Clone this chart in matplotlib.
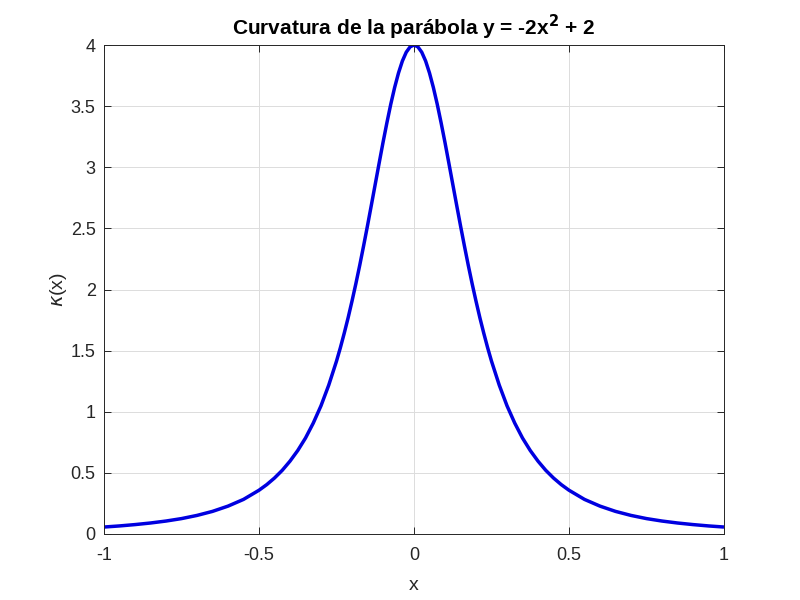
import matplotlib
matplotlib.use("Agg")
import matplotlib.pyplot as plt

plt.rcParams['font.family'] = ['Liberation Sans', 'DejaVu Sans']

# values
x_vals = [-1.0, -0.95, -0.9, -0.85, -0.8, -0.75, -0.7, -0.65, -0.6, -0.55, -0.5,
          -0.475, -0.45, -0.425, -0.4, -0.375, -0.35, -0.325, -0.3, -0.275, -0.25,
          -0.2375, -0.225, -0.2125, -0.2, -0.1875, -0.175, -0.1625, -0.15, -0.1375,
          -0.125, -0.1125, -0.1, -0.0875, -0.075, -0.0625, -0.05, -0.0375, -0.025,
          -0.0125, 0.0,
          0.0125, 0.025, 0.0375, 0.05, 0.0625, 0.075, 0.0875, 0.1, 0.1125, 0.125,
          0.1375, 0.15, 0.1625, 0.175, 0.1875, 0.2, 0.2125, 0.225, 0.2375, 0.25,
          0.275, 0.3, 0.325, 0.35, 0.375, 0.4, 0.425, 0.45, 0.475, 0.5,
          0.55, 0.6, 0.65, 0.7, 0.75, 0.8, 0.85, 0.9, 0.95, 1.0]
k_vals = [0.057, 0.066, 0.077, 0.090, 0.106, 0.126, 0.152, 0.185, 0.228, 0.283, 0.358,
          0.404, 0.458, 0.521, 0.596, 0.683, 0.785, 0.907, 1.049, 1.218, 1.414,
          1.524, 1.643, 1.769, 1.905, 2.048, 2.199, 2.358, 2.522, 2.691,
          2.862, 3.033, 3.202, 3.363, 3.515, 3.652, 3.771, 3.869, 3.941,
          3.985, 4.0,
          3.985, 3.941, 3.869, 3.771, 3.652, 3.515, 3.363, 3.202, 3.033, 2.862,
          2.691, 2.522, 2.358, 2.199, 2.048, 1.905, 1.769, 1.643, 1.524, 1.414,
          1.218, 1.049, 0.907, 0.785, 0.683, 0.596, 0.521, 0.458, 0.404, 0.358,
          0.283, 0.228, 0.185, 0.152, 0.126, 0.106, 0.090, 0.077, 0.066, 0.057]
x_ticks = [-1, -0.5, 0, 0.5, 1]
x_tick_labels = ['-1', '-0.5', '0', '0.5', '1']
y_ticks = [0, 0.5, 1, 1.5, 2, 2.5, 3, 3.5, 4]
y_tick_labels = ['0', '0.5', '1', '1.5', '2', '2.5', '3', '3.5', '4']

fig = plt.figure(figsize=(8, 6), dpi=100)
ax = fig.add_axes([0.13, 0.11, 0.775, 0.815])
ax.plot(x_vals, k_vals, color='#0000e0', linewidth=2.5, solid_joinstyle='round',
        solid_capstyle='butt')
ax.set_xlim(-1, 1)
ax.set_ylim(0, 4)
ax.set_xticks(x_ticks)
ax.set_xticklabels(x_tick_labels)
ax.set_yticks(y_ticks)
ax.set_yticklabels(y_tick_labels)
ax.grid(True, color='#dcdcdc', linewidth=0.7)
ax.set_axisbelow(True)
for s in ax.spines.values():
    s.set_color('#262626')
    s.set_linewidth(0.7)
ax.tick_params(direction='in', length=5, width=0.7, colors='#262626',
               labelsize=13, pad=6, top=True, right=True)
ax.tick_params(axis='x', pad=9)
ax.set_xlabel('x', fontsize=14, color='#262626', labelpad=10)
ax.set_ylabel(r'$\kappa$(x)', fontsize=14, color='#262626', labelpad=1)
ax.set_title(r'Curvatura de la parábola y = -2x$^{\mathbf{2}}$ + 2',
             fontsize=15, fontweight='bold', color='black', pad=7)
fig.savefig('out.png', dpi=100)
